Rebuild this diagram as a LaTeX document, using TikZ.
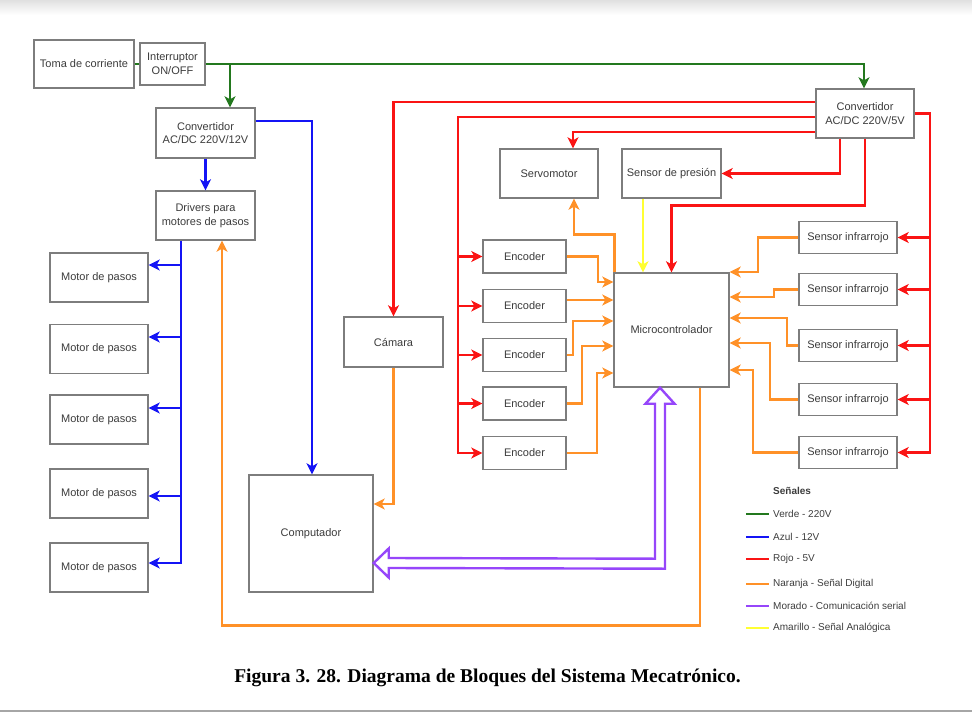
\documentclass[tikz,border=0pt]{standalone}
\usepackage{fontspec}
\setmainfont{Liberation Sans}
\newfontfamily\capfont{Liberation Serif}
\usetikzlibrary{arrows.meta,calc}
\definecolor{cgreen}{RGB}{35,120,30}
\definecolor{cblue}{RGB}{20,20,245}
\definecolor{cred}{RGB}{250,20,20}
\definecolor{corange}{RGB}{255,145,40}
\definecolor{cpurple}{RGB}{150,70,250}
\definecolor{cyellow}{RGB}{255,255,50}
\definecolor{cbox}{RGB}{125,125,125}
\definecolor{ctext}{RGB}{60,60,60}
\begin{document}
\begin{tikzpicture}[x=1pt,y=-1pt,
  box/.style={draw=cbox,line width=1.4pt,fill=white,text=ctext,align=center,
    font=\fontsize{11}{13.5}\selectfont,inner sep=0pt},
  wire/.style={line width=2.8pt},
  tip/.style={-{Stealth[length=11pt,width=11pt,inset=3pt]}},
  leg/.style={anchor=west,text=ctext,font=\fontsize{10}{12}\selectfont,inner sep=0pt},
  legline/.style={line width=2.2pt}]
\useasboundingbox (0,0) rectangle (972,712);
\shade[top color=black!12,bottom color=white] (0,0) rectangle (972,15);
\draw[black!35,line width=2pt] (0,711) -- (972,711);

% boxes
\node[box,minimum width=100pt,minimum height=48pt] (toma) at (84,64) {Toma de corriente};
\node[box,minimum width=65pt,minimum height=42pt] (inter) at (172.5,64) {Interruptor\\ON/OFF};
\node[box,minimum width=99pt,minimum height=50pt] (conv12) at (205.5,133) {Convertidor\\AC/DC 220V/12V};
\node[box,minimum width=99pt,minimum height=49pt] (drivers) at (205.5,215.5) {Drivers para\\motores de pasos};
\node[box,minimum width=98pt,minimum height=49pt] (m1) at (99,277.5) {Motor de pasos};
\node[box,minimum width=98pt,minimum height=49pt] (m2) at (99,349) {Motor de pasos};
\node[box,minimum width=98pt,minimum height=49pt] (m3) at (99,419.5) {Motor de pasos};
\node[box,minimum width=98pt,minimum height=49pt] (m4) at (99,493.5) {Motor de pasos};
\node[box,minimum width=98pt,minimum height=49pt] (m5) at (99,567.5) {Motor de pasos};
\node[box,minimum width=99pt,minimum height=50pt] (camara) at (393.5,342) {Cámara};
\node[box,minimum width=124pt,minimum height=117pt] (comp) at (311,533.5) {Computador};
\node[box,minimum width=98pt,minimum height=49pt] (servo) at (549,173.5) {Servomotor};
\node[box,minimum width=99pt,minimum height=49pt] (presion) at (671.5,173.5) {Sensor de presión};
\node[box,minimum width=98pt,minimum height=49pt] (conv5) at (865,113.5) {Convertidor\\AC/DC 220V/5V};
\node[box,minimum width=115pt,minimum height=114pt] (micro) at (671.5,330) {Microcontrolador};
\node[box,minimum width=83pt,minimum height=33pt] (e1) at (524.5,256.5) {Encoder};
\node[box,minimum width=83pt,minimum height=33pt] (e2) at (524.5,306) {Encoder};
\node[box,minimum width=83pt,minimum height=33pt] (e3) at (524.5,355) {Encoder};
\node[box,minimum width=83pt,minimum height=33pt] (e4) at (524.5,403.5) {Encoder};
\node[box,minimum width=83pt,minimum height=33pt] (e5) at (524.5,453) {Encoder};
\node[box,minimum width=98pt,minimum height=32pt] (s1) at (848,237.5) {Sensor infrarrojo};
\node[box,minimum width=98pt,minimum height=32pt] (s2) at (848,289.5) {Sensor infrarrojo};
\node[box,minimum width=98pt,minimum height=32pt] (s3) at (848,345.5) {Sensor infrarrojo};
\node[box,minimum width=98pt,minimum height=32pt] (s4) at (848,399.5) {Sensor infrarrojo};
\node[box,minimum width=98pt,minimum height=32pt] (s5) at (848,452.5) {Sensor infrarrojo};

% green
\draw[wire,cgreen] (toma.east) -- (inter.west);
\draw[wire,cgreen,tip] (inter.east) -| ($(conv5.north)+(-1,0)$);
\coordinate (gb) at ($(conv12.north)+(24.5,-44)$);
\draw[wire,cgreen,tip] (gb) -- ($(conv12.north)+(24.5,0)$);

% blue
\draw[wire,cblue,tip] (conv12.south) -- (drivers.north);
\draw[wire,cblue,tip] ($(conv12.east)+(0,-12)$) -| ($(comp.north)+(1,0)$);
\coordinate (bus) at ($(drivers.south)+(-24.5,0)$);
\draw[wire,cblue,tip] (bus) |- ($(m5.east)+(0,-4.5)$);
\draw[wire,cblue,tip] (bus |- 0,265) -- ($(m1.east)+(0,-12.5)$);
\draw[wire,cblue,tip] (bus |- 0,337) -- ($(m2.east)+(0,-12)$);
\draw[wire,cblue,tip] (bus |- 0,408) -- ($(m3.east)+(0,-11.5)$);
\draw[wire,cblue,tip] (bus |- 0,496) -- ($(m4.east)+(0,2.5)$);

% red
\draw[wire,cred,tip] ($(conv5.west)+(0,-11.5)$) -| (camara.north);
\coordinate (rbus) at (458,117);
\draw[wire,cred,tip] ($(conv5.west)+(0,3.5)$) -| (rbus |- e5.west) -- (e5.west);
\foreach \e in {e1,e2,e3,e4}{\draw[wire,cred,tip] (rbus |- \e.west) -- (\e.west);}
\draw[wire,cred,tip] ($(conv5.west)+(0,18.5)$) -| ($(servo.north)+(24,0)$);
\draw[wire,cred,tip] ($(conv5.south)+(-25,0)$) |- (presion.east);
\draw[wire,cred,tip] (conv5.south) -- ++(0,66.5) -| (micro.north);
\coordinate (sbus) at (930,113.5);
\draw[wire,cred,tip] (conv5.east) -| (sbus |- s5.east) -- (s5.east);
\foreach \s in {s1,s2,s3,s4}{\draw[wire,cred,tip] (sbus |- \s.east) -- (\s.east);}

% yellow
\draw[wire,cyellow,tip] ($(presion.south)+(-28.5,0)$) -- ($(micro.north)+(-28.5,0)$);

% orange
\draw[wire,corange,tip] ($(micro.north west)+(1,0)$) -- ++(0,-38) -| ($(servo.south)+(25,0)$);
\draw[wire,corange,tip] (e1.east) -| (598,282) -- ($(micro.west)+(0,-48)$);
\draw[wire,corange,tip] ($(e2.east)+(0,-6)$) -- ($(micro.west)+(0,-30)$);
\draw[wire,corange,tip] (e3.east) -| (573,321) -- ($(micro.west)+(0,-9)$);
\draw[wire,corange,tip] (e4.east) -| (582,346) -- ($(micro.west)+(0,16)$);
\draw[wire,corange,tip] (e5.east) -| (597,373) -- ($(micro.west)+(0,43)$);
\draw[wire,corange,tip] (s1.west) -| (758,272) -- ($(micro.east)+(0,-58)$);
\draw[wire,corange,tip] (s2.west) -| (774,297) -- ($(micro.east)+(0,-33)$);
\draw[wire,corange,tip] (s3.west) -| (787,318) -- ($(micro.east)+(0,-12)$);
\draw[wire,corange,tip] (s4.west) -| (770,343) -- ($(micro.east)+(0,13)$);
\draw[wire,corange,tip] (s5.west) -| (753,370) -- ($(micro.east)+(0,40)$);
\draw[wire,corange,tip] (camara.south) |- ($(comp.east)+(0,-29.5)$);
\draw[wire,corange,tip] ($(micro.south)+(28.5,0)$) -- ++(0,238) -| ($(drivers.south)+(16.5,0)$);

% purple double arrow
\coordinate (pt) at ($(micro.south)+(-11.5,0)$);
\coordinate (pl) at ($(comp.east)+(0,29.5)$);
\draw[cpurple,line width=2.4pt,fill=white,line join=miter]
  (pt) -- ($(pt)+(14.5,16)$) -- ($(pt)+(5,16)$) -- ($(pt)+(5,181)$)
  -- ($(pl)+(15,5)$) -- ($(pl)+(15,14.5)$) -- (pl) -- ($(pl)+(15,-14.5)$)
  -- ($(pl)+(15,-5)$) -- ($(pt)+(-5,171)$) -- ($(pt)+(-5,16)$) -- ($(pt)+(-14.5,16)$) -- cycle;

% legend
\node[leg,font=\bfseries\fontsize{10}{12}\selectfont] (lh) at (773,491) {Señales};
\draw[legline,cgreen] (746,514) -- (769,514);
\node[leg] (l1) at (773,514) {Verde - 220V};
\draw[legline,cblue] (746,537) -- (769,537);
\node[leg] (l2) at (773,537) {Azul - 12V};
\draw[legline,cred] (746,559) -- (769,559);
\node[leg] (l3) at (773,559) {Rojo - 5V};
\draw[legline,corange] (746,584) -- (769,584);
\node[leg] (l4) at (773,584) {Naranja - Señal Digital};
\draw[legline,cpurple] (746,606) -- (769,606);
\node[leg] (l5) at (773,606) {Morado - Comunicación serial};
\draw[legline,cyellow] (746,628) -- (769,628);
\node[leg] (l6) at (773,628) {Amarillo - Señal Analógica};

% caption
\node[font=\capfont\bfseries\fontsize{19.5}{22}\selectfont] (cap) at (487.5,678) {Figura 3. 28. Diagrama de Bloques del Sistema Mecatrónico.};
\end{tikzpicture}
\end{document}
